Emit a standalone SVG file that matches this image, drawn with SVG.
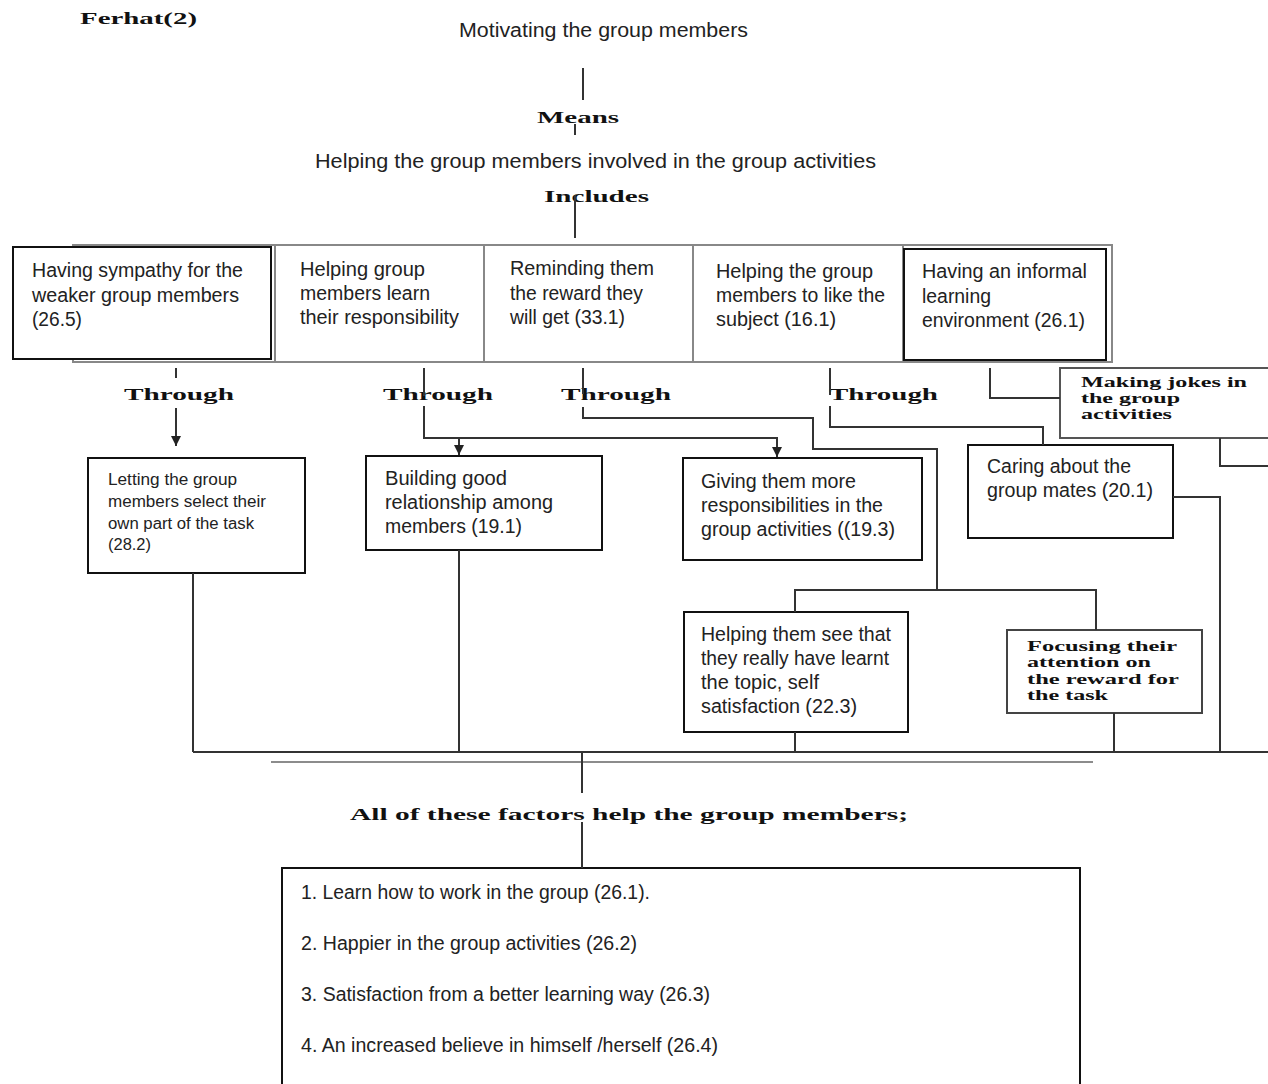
<svg xmlns="http://www.w3.org/2000/svg" width="1268" height="1084" viewBox="0 0 1268 1084">
<style>
.bg{fill:#fff}
.t{font-family:"Liberation Sans",Arial,sans-serif;font-size:20px;fill:#222}
.ts{font-family:"Liberation Sans",Arial,sans-serif;font-size:16px;fill:#222}
.b{font-family:"Liberation Serif","Times New Roman",serif;font-weight:bold;font-size:16px;fill:#111}
.bs{font-family:"Liberation Serif","Times New Roman",serif;font-weight:bold;font-size:14px;fill:#111}
.box{fill:#fff;stroke:#111;stroke-width:2}
.gbox{fill:#fff;stroke:#888;stroke-width:2}
.ln{fill:none;stroke:#333;stroke-width:2}
.gl{fill:none;stroke:#666;stroke-width:1.5}
</style>
<defs>
<marker id="ah" viewBox="0 0 10 10" refX="10" refY="5" markerWidth="10" markerHeight="10" markerUnits="userSpaceOnUse" orient="auto">
<path d="M0,0 L10,5 L0,10 z" fill="#222"/>
</marker>
</defs>
<rect class="bg" x="0" y="0" width="1268" height="1084"/>

<g id="header">
<text class="b" x="80" y="24" textLength="117" lengthAdjust="spacingAndGlyphs">Ferhat(2)</text>
</g>
<g id="n-motivating">
<text class="t" x="459" y="37" textLength="289" lengthAdjust="spacingAndGlyphs">Motivating the group members</text>
</g>
<g id="l-means">
<text class="b" x="537" y="123" textLength="82" lengthAdjust="spacingAndGlyphs">Means</text>
</g>
<g id="n-helping-involved">
<text class="t" x="315" y="168" textLength="561" lengthAdjust="spacingAndGlyphs">Helping the group members involved in the group activities</text>
</g>
<g id="l-includes">
<text class="b" x="544" y="202" textLength="105" lengthAdjust="spacingAndGlyphs">Includes</text>
</g>

<g id="row-frame">
<rect class="gbox" x="73" y="245" width="1039" height="117"/>
</g>
<g id="n-sympathy">
<rect class="box" x="13" y="247" width="258" height="112"/>
<text class="t" x="32" y="277" textLength="211" lengthAdjust="spacingAndGlyphs">Having sympathy for the</text>
<text class="t" x="32" y="302" textLength="207" lengthAdjust="spacingAndGlyphs">weaker group members</text>
<text class="t" x="32" y="326" textLength="50" lengthAdjust="spacingAndGlyphs">(26.5)</text>
</g>
<g id="n-responsibility">
<rect class="gbox" x="275" y="245" width="209" height="117"/>
<text class="t" x="300" y="276" textLength="125" lengthAdjust="spacingAndGlyphs">Helping group</text>
<text class="t" x="300" y="300" textLength="130" lengthAdjust="spacingAndGlyphs">members learn</text>
<text class="t" x="300" y="324" textLength="159" lengthAdjust="spacingAndGlyphs">their responsibility</text>
</g>
<g id="n-reward">
<rect class="gbox" x="484" y="245" width="209" height="117"/>
<text class="t" x="510" y="275" textLength="144" lengthAdjust="spacingAndGlyphs">Reminding them</text>
<text class="t" x="510" y="300" textLength="133" lengthAdjust="spacingAndGlyphs">the reward they</text>
<text class="t" x="510" y="324" textLength="115" lengthAdjust="spacingAndGlyphs">will get (33.1)</text>
</g>
<g id="n-like-subject">
<rect class="gbox" x="693" y="245" width="210" height="117"/>
<text class="t" x="716" y="278" textLength="157" lengthAdjust="spacingAndGlyphs">Helping the group</text>
<text class="t" x="716" y="302" textLength="169" lengthAdjust="spacingAndGlyphs">members to like the</text>
<text class="t" x="716" y="326" textLength="120" lengthAdjust="spacingAndGlyphs">subject (16.1)</text>
</g>
<g id="n-informal">
<rect class="box" x="904" y="249" width="202" height="111"/>
<text class="t" x="922" y="278" textLength="165" lengthAdjust="spacingAndGlyphs">Having an informal</text>
<text class="t" x="922" y="303" textLength="69" lengthAdjust="spacingAndGlyphs">learning</text>
<text class="t" x="922" y="327" textLength="163" lengthAdjust="spacingAndGlyphs">environment (26.1)</text>
</g>

<g id="through-labels">
<text class="b" x="124" y="400" textLength="110" lengthAdjust="spacingAndGlyphs">Through</text>
<text class="b" x="383" y="400" textLength="110" lengthAdjust="spacingAndGlyphs">Through</text>
<text class="b" x="561" y="400" textLength="110" lengthAdjust="spacingAndGlyphs">Through</text>
<text class="b" x="829" y="400" textLength="109" lengthAdjust="spacingAndGlyphs">Through</text>
</g>

<g id="n-letting">
<rect class="box" x="88" y="458" width="217" height="115"/>
<text class="ts" x="108" y="485" textLength="129" lengthAdjust="spacingAndGlyphs">Letting the group</text>
<text class="ts" x="108" y="507" textLength="158" lengthAdjust="spacingAndGlyphs">members select their</text>
<text class="ts" x="108" y="529" textLength="146" lengthAdjust="spacingAndGlyphs">own part of the task</text>
<text class="ts" x="108" y="550" textLength="43" lengthAdjust="spacingAndGlyphs">(28.2)</text>
</g>
<g id="n-building">
<rect class="box" x="366" y="456" width="236" height="94"/>
<text class="t" x="385" y="485" textLength="122" lengthAdjust="spacingAndGlyphs">Building good</text>
<text class="t" x="385" y="509" textLength="168" lengthAdjust="spacingAndGlyphs">relationship among</text>
<text class="t" x="385" y="533" textLength="137" lengthAdjust="spacingAndGlyphs">members (19.1)</text>
</g>
<g id="n-giving">
<rect class="box" x="683" y="458" width="239" height="102"/>
<text class="t" x="701" y="488" textLength="155" lengthAdjust="spacingAndGlyphs">Giving them more</text>
<text class="t" x="701" y="512" textLength="182" lengthAdjust="spacingAndGlyphs">responsibilities in the</text>
<text class="t" x="701" y="536" textLength="194" lengthAdjust="spacingAndGlyphs">group activities ((19.3)</text>
</g>
<g id="n-jokes">
<rect class="box" x="1060" y="368" width="220" height="70" style="stroke:#555"/>
<text class="bs" x="1081" y="387" textLength="166" lengthAdjust="spacingAndGlyphs">Making jokes in</text>
<text class="bs" x="1081" y="403" textLength="99" lengthAdjust="spacingAndGlyphs">the group</text>
<text class="bs" x="1081" y="419" textLength="91" lengthAdjust="spacingAndGlyphs">activities</text>
</g>
<g id="n-caring">
<rect class="box" x="968" y="445" width="205" height="93"/>
<text class="t" x="987" y="473" textLength="144" lengthAdjust="spacingAndGlyphs">Caring about the</text>
<text class="t" x="987" y="497" textLength="166" lengthAdjust="spacingAndGlyphs">group mates (20.1)</text>
</g>
<g id="n-see-learnt">
<rect class="box" x="684" y="612" width="224" height="120"/>
<text class="t" x="701" y="641" textLength="190" lengthAdjust="spacingAndGlyphs">Helping them see that</text>
<text class="t" x="701" y="665" textLength="188" lengthAdjust="spacingAndGlyphs">they really have learnt</text>
<text class="t" x="701" y="689" textLength="118" lengthAdjust="spacingAndGlyphs">the topic, self</text>
<text class="t" x="701" y="713" textLength="156" lengthAdjust="spacingAndGlyphs">satisfaction (22.3)</text>
</g>
<g id="n-focusing">
<rect class="box" x="1007" y="630" width="195" height="83" style="stroke:#444"/>
<text class="bs" x="1027" y="651" textLength="150" lengthAdjust="spacingAndGlyphs">Focusing their</text>
<text class="bs" x="1027" y="667" textLength="124" lengthAdjust="spacingAndGlyphs">attention on</text>
<text class="bs" x="1027" y="684" textLength="152" lengthAdjust="spacingAndGlyphs">the reward for</text>
<text class="bs" x="1027" y="700" textLength="81" lengthAdjust="spacingAndGlyphs">the task</text>
</g>

<g id="l-all">
<text class="b" x="350" y="820" textLength="558" lengthAdjust="spacingAndGlyphs">All of these factors help the group members;</text>
</g>
<g id="n-outcomes">
<rect class="box" x="282" y="868" width="798" height="240"/>
<text class="t" x="301" y="899" textLength="349" lengthAdjust="spacingAndGlyphs">1. Learn how to work in the group (26.1).</text>
<text class="t" x="301" y="950" textLength="336" lengthAdjust="spacingAndGlyphs">2. Happier in the group activities (26.2)</text>
<text class="t" x="301" y="1001" textLength="409" lengthAdjust="spacingAndGlyphs">3. Satisfaction from a better learning way (26.3)</text>
<text class="t" x="301" y="1052" textLength="417" lengthAdjust="spacingAndGlyphs">4. An increased believe in himself /herself (26.4)</text>
</g>

<g id="connectors">
<path class="ln" d="M583,68 V100"/>
<path class="ln" d="M575,124 V135"/>
<path class="ln" d="M575,195 V238"/>
<!-- sympathy -->
<path class="ln" d="M176,368 V378"/>
<path class="ln" d="M176,408 V446" marker-end="url(#ah)"/>
<!-- responsibility -->
<path class="ln" d="M424,368 V396"/>
<path class="ln" d="M424,406 V438 H777 V457" marker-end="url(#ah)"/>
<path class="ln" d="M459,438 V455" marker-end="url(#ah)"/>
<!-- reward -->
<path class="ln" d="M583,368 V394"/>
<path class="ln" d="M583,407 V418 H813 V449 H937 V590"/>
<path class="ln" d="M795,612 V590 H1096 V630"/>
<!-- like subject -->
<path class="ln" d="M830,368 V395"/>
<path class="ln" d="M830,406 V427 H1043 V445"/>
<!-- informal -->
<path class="ln" d="M990,368 V398 H1060"/>
<!-- jokes -->
<path class="ln" d="M1220,438 V466 H1268"/>
<!-- caring -->
<path class="ln" d="M1173,497 H1220 V752"/>
<!-- bottoms -->
<path class="ln" d="M193,573 V752"/>
<path class="ln" d="M459,550 V752"/>
<path class="ln" d="M795,732 V752"/>
<path class="ln" d="M1114,713 V752"/>
<path class="ln" d="M193,752 H1268"/>
<path class="gl" d="M271,762 H1093"/>
<path class="ln" d="M582,752 V793"/>
<path class="ln" d="M582,822 V868"/>
</g>
</svg>
